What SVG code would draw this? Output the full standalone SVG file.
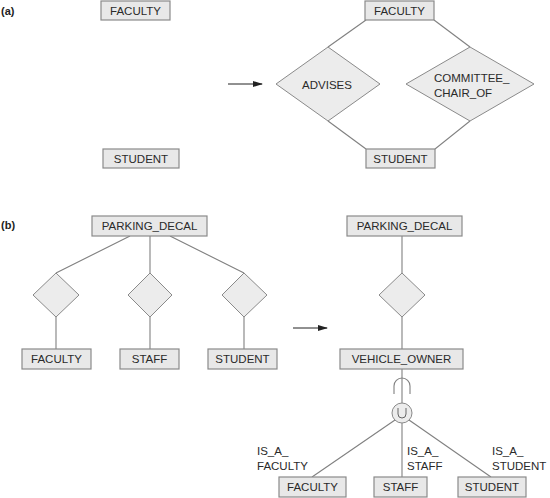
<svg xmlns="http://www.w3.org/2000/svg" width="550" height="498" viewBox="0 0 550 498">
<style>
.ent{fill:#e8e8e8;stroke:#8a8a8a;stroke-width:1.2}
.rel{fill:#ececec;stroke:#8a8a8a;stroke-width:1}
.ln{stroke:#808080;stroke-width:1.1;fill:none}
.t{font-family:"Liberation Sans",Arial,sans-serif;font-size:11.5px;fill:#2a2a2a}
.c{text-anchor:middle}
.lb{font-family:"Liberation Sans",Arial,sans-serif;font-size:11px;font-weight:bold;fill:#222}
.ar{stroke:#222;stroke-width:1}
</style>
<defs>
<marker id="ah" markerWidth="10" markerHeight="8" refX="9" refY="4" orient="auto" markerUnits="userSpaceOnUse">
<path d="M0,1 L10,4 L0,7 Z" fill="#222"/>
</marker>
</defs>
<rect width="550" height="498" fill="#fff"/>
<text class="lb" x="1" y="15">(a)</text>
<text class="lb" x="1" y="229">(b)</text>
<g id="connectors">
<line class="ar" x1="228" y1="84" x2="262" y2="84" marker-end="url(#ah)"/>
<line class="ar" x1="293" y1="328" x2="327" y2="328" marker-end="url(#ah)"/>
<line class="ln" x1="366" y1="20" x2="328" y2="47"/>
<line class="ln" x1="434" y1="20" x2="470" y2="47"/>
<line class="ln" x1="328" y1="121" x2="366" y2="149"/>
<line class="ln" x1="470" y1="121" x2="435" y2="149"/>
<line class="ln" x1="130" y1="236" x2="56" y2="273"/>
<line class="ln" x1="150" y1="236" x2="150" y2="273"/>
<line class="ln" x1="170" y1="236" x2="244" y2="273"/>
<line class="ln" x1="56" y1="317" x2="56" y2="349"/>
<line class="ln" x1="150" y1="317" x2="150" y2="349"/>
<line class="ln" x1="244" y1="317" x2="244" y2="349"/>
<line class="ln" x1="402" y1="236" x2="402" y2="273"/>
<line class="ln" x1="402" y1="317" x2="402" y2="349"/>
<line class="ln" x1="402" y1="369" x2="402" y2="404"/>
<path class="ln" d="M394,394 V386 A8,8 0 0 1 410,386 V394"/>
<line class="ln" x1="395" y1="420" x2="312" y2="477"/>
<line class="ln" x1="402" y1="423" x2="402" y2="477"/>
<line class="ln" x1="409" y1="420" x2="491" y2="477"/>
</g>
<g id="faculty_a_left"><rect class="ent" x="101" y="1" width="69" height="19"/><text class="t c" x="135.5" y="15">FACULTY</text></g>
<g id="student_a_left"><rect class="ent" x="103" y="149" width="76" height="19"/><text class="t c" x="141" y="163">STUDENT</text></g>
<g id="faculty_a_right"><rect class="ent" x="365" y="1" width="69" height="19"/><text class="t c" x="399.5" y="15">FACULTY</text></g>
<g id="student_a_right"><rect class="ent" x="366" y="149" width="69" height="19"/><text class="t c" x="400.5" y="163">STUDENT</text></g>
<g id="advises"><polygon class="rel" points="328,47 380,84 328,121 276,84"/><text class="t c" x="327" y="89">ADVISES</text></g>
<g id="committee_chair_of"><polygon class="rel" points="470,47 534,84 470,121 406,84"/><text class="t" x="434" y="82">COMMITTEE_</text><text class="t" x="434" y="97">CHAIR_OF</text></g>
<g id="parking_decal_left"><rect class="ent" x="92" y="216" width="115" height="20"/><text class="t c" x="149.5" y="230">PARKING_DECAL</text></g>
<g id="rel_b1"><polygon class="rel" points="56,273 79,295 56,317 33,295"/></g>
<g id="rel_b2"><polygon class="rel" points="150,273 172,295 150,317 128,295"/></g>
<g id="rel_b3"><polygon class="rel" points="244,273 267,295 244,317 222,295"/></g>
<g id="faculty_b_left"><rect class="ent" x="22" y="349" width="69" height="20"/><text class="t c" x="56.5" y="363">FACULTY</text></g>
<g id="staff_b_left"><rect class="ent" x="120" y="349" width="59" height="20"/><text class="t c" x="149.5" y="363">STAFF</text></g>
<g id="student_b_left"><rect class="ent" x="208" y="349" width="69" height="20"/><text class="t c" x="242.5" y="363">STUDENT</text></g>
<g id="parking_decal_right"><rect class="ent" x="347" y="216" width="115" height="20"/><text class="t c" x="404.5" y="230">PARKING_DECAL</text></g>
<g id="rel_b4"><polygon class="rel" points="402,273 425,295 402,317 379,295"/></g>
<g id="vehicle_owner"><rect class="ent" x="340" y="349" width="123" height="20"/><text class="t c" x="401.5" y="363">VEHICLE_OWNER</text></g>
<g id="union"><circle cx="402" cy="413" r="10" fill="#ececec" stroke="#8a8a8a" stroke-width="1"/><path d="M398,408 V414 A4,4 0 0 0 406,414 V408" fill="none" stroke="#666" stroke-width="1"/></g>
<g id="faculty_b_right"><rect class="ent" x="279" y="477" width="67" height="20"/><text class="t c" x="312.5" y="491">FACULTY</text></g>
<g id="staff_b_right"><rect class="ent" x="374" y="477" width="53" height="20"/><text class="t c" x="400.5" y="491">STAFF</text></g>
<g id="student_b_right"><rect class="ent" x="458" y="477" width="68" height="20"/><text class="t c" x="492" y="491">STUDENT</text></g>
<g id="labels">
<text class="t" x="257" y="455">IS_A_</text><text class="t" x="257" y="470">FACULTY</text>
<text class="t" x="407" y="455">IS_A_</text><text class="t" x="407" y="470">STAFF</text>
<text class="t" x="492" y="455">IS_A_</text><text class="t" x="492" y="470">STUDENT</text>
</g>
</svg>
